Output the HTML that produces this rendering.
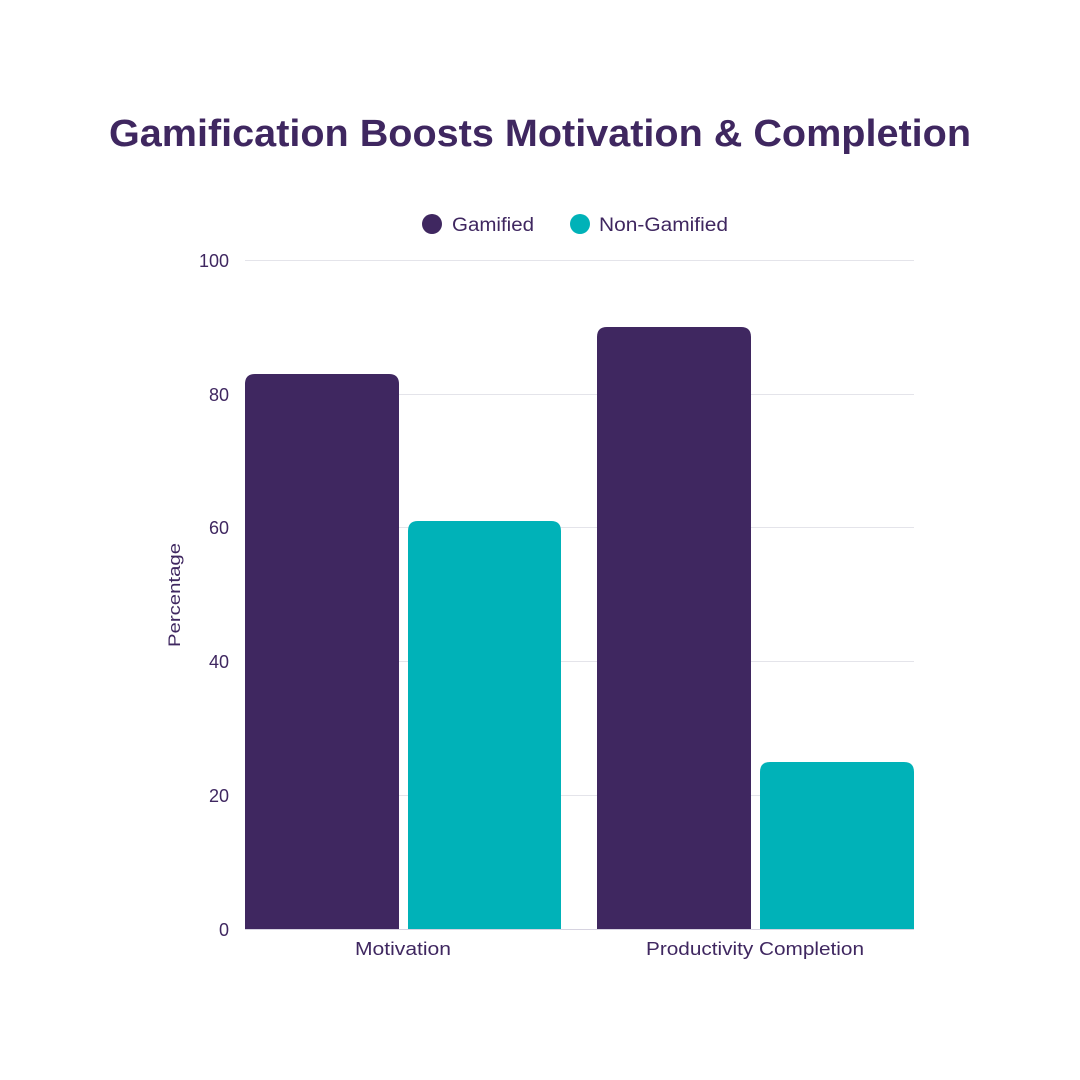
<!DOCTYPE html>
<html><head><meta charset="utf-8"><style>
html,body{margin:0;padding:0;background:#fff;}
svg{display:block;font-family:"Liberation Sans",sans-serif;}
</style></head><body>
<svg width="1080" height="1080" viewBox="0 0 1080 1080" xmlns="http://www.w3.org/2000/svg">
<rect width="1080" height="1080" fill="#fff"/>
<text x="540" y="146" text-anchor="middle" font-size="38" font-weight="bold" fill="#3f2760" textLength="862" lengthAdjust="spacingAndGlyphs">Gamification Boosts Motivation &amp; Completion</text>
<circle cx="432" cy="224" r="10" fill="#3f2760"/>
<text x="452" y="231" font-size="19" fill="#3f2760" textLength="82" lengthAdjust="spacingAndGlyphs">Gamified</text>
<circle cx="580" cy="224" r="10" fill="#00b2b8"/>
<text x="599" y="231" font-size="19" fill="#3f2760" textLength="129" lengthAdjust="spacingAndGlyphs">Non-Gamified</text>
<g stroke="#e4e4ea" stroke-width="1">
<line x1="245" x2="914" y1="260.5" y2="260.5"/>
<line x1="245" x2="914" y1="394.5" y2="394.5"/>
<line x1="245" x2="914" y1="527.5" y2="527.5"/>
<line x1="245" x2="914" y1="661.5" y2="661.5"/>
<line x1="245" x2="914" y1="795.5" y2="795.5"/>
</g>
<g font-size="18" fill="#3f2760" text-anchor="end">
<text x="229" y="267">100</text>
<text x="229" y="401">80</text>
<text x="229" y="534">60</text>
<text x="229" y="668">40</text>
<text x="229" y="802">20</text>
<text x="229" y="936">0</text>
</g>
<text transform="translate(180,595) rotate(-90)" text-anchor="middle" font-size="17" fill="#3f2760" textLength="104" lengthAdjust="spacingAndGlyphs">Percentage</text>
<g>
<path d="M245 929 V384 Q245 374 255 374 H389 Q399 374 399 384 V929 Z" fill="#3f2760"/>
<path d="M408 929 V531 Q408 521 418 521 H551 Q561 521 561 531 V929 Z" fill="#00b2b8"/>
<path d="M597 929 V337 Q597 327 607 327 H741 Q751 327 751 337 V929 Z" fill="#3f2760"/>
<path d="M760 929 V772 Q760 762 770 762 H904 Q914 762 914 772 V929 Z" fill="#00b2b8"/>
</g>
<line x1="245" x2="914" y1="929.5" y2="929.5" stroke="#d6d3e0" stroke-width="1"/>
<g font-size="18" fill="#3f2760">
<text x="355" y="955" textLength="96" lengthAdjust="spacingAndGlyphs">Motivation</text>
<text x="646" y="955" textLength="218" lengthAdjust="spacingAndGlyphs">Productivity Completion</text>
</g>
</svg>
</body></html>
